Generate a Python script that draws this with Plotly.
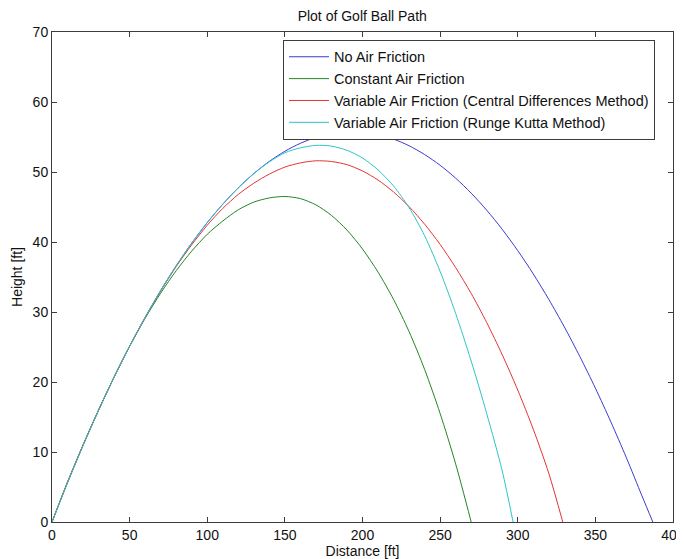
import plotly.graph_objects as go

# ---- data ----
no_air_x = [0, 10, 20, 30, 40, 50, 60, 70, 80, 90, 100, 110, 120, 130, 140, 150, 160, 170, 180, 190,
            200, 210, 220, 230, 240, 250, 260, 270, 280, 290, 300, 310, 320, 330, 340, 350, 360, 370, 380, 387]
no_air_y = [0, 5.62, 10.94, 15.96, 20.69, 25.12, 29.24, 33.07, 36.60, 39.84, 42.77, 45.40, 47.74, 49.78,
            51.52, 52.96, 54.10, 54.95, 55.50, 55.74, 55.69, 55.34, 54.70, 53.75, 52.50, 50.96, 49.12,
            46.98, 44.54, 41.81, 38.77, 35.44, 31.80, 27.87, 23.64, 19.12, 14.29, 9.17, 3.74, 0]

const_x = [0, 10, 20, 30, 40, 50, 60, 70, 80, 90, 100, 110, 120, 130, 140, 150, 160, 170, 180, 190,
           200, 210, 220, 230, 240, 250, 260, 270]
const_y = [0, 5.7, 11.0, 16.0, 20.7, 25.1, 29.1, 32.7, 35.9, 38.7, 41.1, 43.0, 44.6, 45.7, 46.3, 46.5,
           46.2, 45.3, 43.8, 41.7, 39.0, 35.7, 31.8, 27.2, 21.8, 15.5, 8.3, 0]

cd_x = [0, 10, 20, 30, 40, 50, 60, 70, 80, 90, 100, 110, 120, 130, 140, 150, 160, 170, 180, 190,
        200, 210, 220, 230, 240, 250, 260, 270, 280, 290, 300, 310, 320, 329]
cd_y = [0, 5.7, 11.0, 16.0, 20.7, 25.1, 29.2, 33.0, 36.5, 39.6, 42.4, 44.8, 46.8, 48.4, 49.7, 50.7,
        51.3, 51.6, 51.5, 51.05, 50.15, 48.85, 47.15, 45.05, 42.55, 39.65, 36.35, 32.65, 28.5, 23.9,
        18.85, 13.25, 6.95, 0]

rk_x = [0, 10, 20, 30, 40, 50, 60, 70, 80, 90, 100, 110, 120, 130, 140, 150, 160, 170, 180, 190,
        200, 210, 220, 230, 240, 250, 260, 270, 280, 290, 297]
rk_y = [0, 5.62, 10.94, 15.96, 20.69, 25.12, 29.24, 33.07, 36.60, 39.84, 42.77, 45.40, 47.74, 49.78,
        51.45, 52.75, 53.45, 53.8, 53.7, 53.1, 52.0, 50.3, 48.0, 44.9, 40.9, 35.8, 29.8, 23.0, 15.5,
        7.3, 0]

series = [
    ("No Air Friction", no_air_x, no_air_y, "#3a3ad2"),
    ("Constant Air Friction", const_x, const_y, "#248624"),
    ("Variable Air Friction (Central Differences Method)", cd_x, cd_y, "#e43434"),
    ("Variable Air Friction (Runge Kutta Method)", rk_x, rk_y, "#2cc6c6"),
]

x_ticks = [0, 50, 100, 150, 200, 250, 300, 350, 400]
y_ticks = [0, 10, 20, 30, 40, 50, 60, 70]

fig = go.Figure()
for name, xs, ys, col in series:
    fig.add_trace(go.Scatter(x=xs, y=ys, mode="lines", name=name,
                             line=dict(color=col, width=1, shape="spline", smoothing=0.8)))

font_family = "Liberation Sans, Arial, sans-serif"
axis_common = dict(showgrid=False, zeroline=False, showline=True, linecolor="#3c3c3c", linewidth=1,
                   mirror="ticks", ticks="inside", ticklen=5, tickcolor="#3c3c3c", automargin=False,
                   ticklabeloverflow="allow",
                   tickfont=dict(family=font_family, size=14, color="#111111"))

# page body has an 8px margin: figure is sized/offset to compensate
fig.update_layout(
    width=676, height=551,
    margin=dict(l=44, r=11, t=24, b=37),
    paper_bgcolor="white", plot_bgcolor="white",
    font=dict(family=font_family, size=14, color="#111111"),
    title=dict(text="Plot of Golf Ball Path", x=0.524, xanchor="center", y=0.985, yanchor="middle",
               font=dict(family=font_family, size=14, color="#111111")),
    showlegend=True,
    legend=dict(x=0.372, y=0.984, xanchor="left", yanchor="top",
                bgcolor="white", bordercolor="#3c3c3c", borderwidth=1,
                font=dict(family=font_family, size=14.5, color="#111111"),
                tracegroupgap=0, itemwidth=40),
)
fig.update_xaxes(range=[0, 400], tickvals=x_ticks, ticktext=[str(v) for v in x_ticks],
                 title=dict(text="Distance [ft]", standoff=0,
                            font=dict(family=font_family, size=14)), **axis_common)
fig.update_yaxes(range=[0, 70], tickvals=y_ticks, ticktext=[str(v) for v in y_ticks],
                 title=dict(text="Height [ft]", standoff=6,
                            font=dict(family=font_family, size=14)), **axis_common)

fig.write_html("out.html")
